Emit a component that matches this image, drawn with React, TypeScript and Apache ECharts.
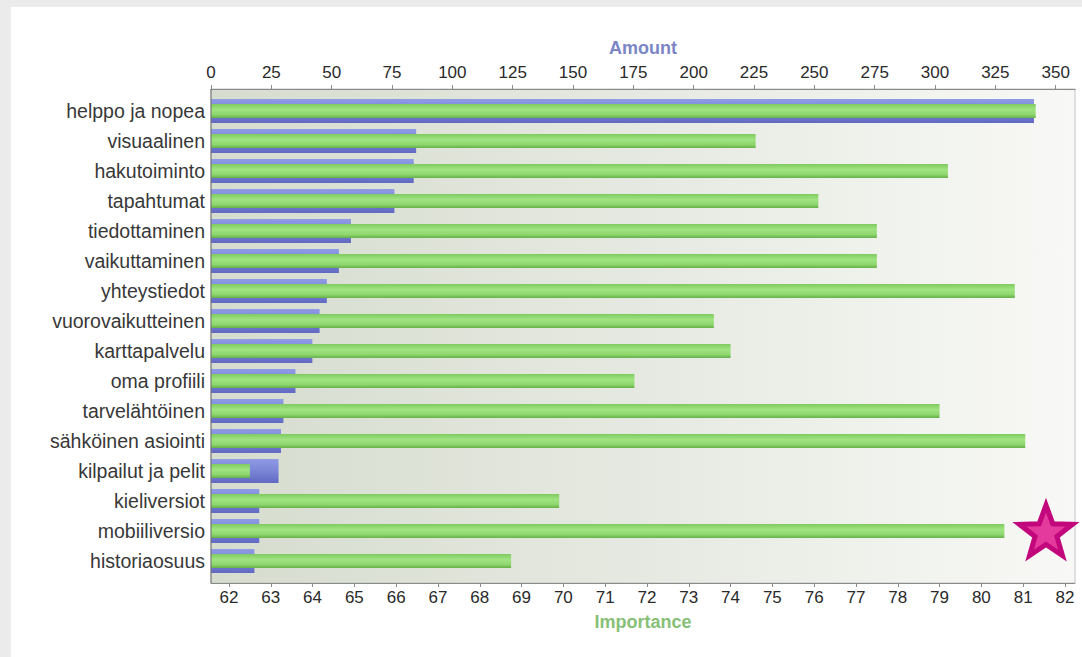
import React, { useEffect, useRef } from "react";
import * as echarts from "echarts";

const categories = [
  "helppo ja nopea",
  "visuaalinen",
  "hakutoiminto",
  "tapahtumat",
  "tiedottaminen",
  "vaikuttaminen",
  "yhteystiedot",
  "vuorovaikutteinen",
  "karttapalvelu",
  "oma profiili",
  "tarvelähtöinen",
  "sähköinen asiointi",
  "kilpailut ja pelit",
  "kieliversiot",
  "mobiiliversio",
  "historiaosuus",
];
const amount = [341, 85, 84, 76, 58, 53, 48, 45, 42, 35, 30, 29, 28, 20, 20, 18];
const importance = [81.3, 74.6, 79.2, 76.1, 77.5, 77.5, 80.8, 73.6, 74.0, 71.7, 79.0, 81.05, 62.5, 69.9, 80.55, 68.75];

const amountRange = [0, 358];
const amountStep = 25;
const importanceRange = [61.57, 82.24];
const importanceStep = 1;

const FONT = "Liberation Sans, Arial, sans-serif";

function starPoints(cx: number, cy: number, R: number, r: number) {
  const pts: number[][] = [];
  for (let i = 0; i < 10; i++) {
    const a = ((-90 + i * 36) * Math.PI) / 180;
    const rad = i % 2 === 0 ? R : r;
    pts.push([cx + rad * Math.cos(a), cy + rad * Math.sin(a)]);
  }
  return pts;
}

export default function App() {
  const ref = useRef<HTMLDivElement>(null);
  useEffect(() => {
    if (!ref.current) return;
    const chart = echarts.init(ref.current, null, { renderer: "svg" });
    const axisCommon = {
      type: "value",
      offset: 7,
      nameLocation: "middle",
      axisLine: { show: true, lineStyle: { color: "#8a8a8a", width: 1 } },
      axisTick: { show: true, length: 4, lineStyle: { color: "#8a8a8a" } },
      splitLine: { show: false },
    };
    const option: any = {
      animation: false,
      backgroundColor: "#ebebeb",
      grid: { left: 211, right: 7, top: 96, bottom: 81, containLabel: false },
      graphic: [
        {
          type: "rect",
          z: -100,
          silent: true,
          shape: { x: 11, y: 7, width: 1071, height: 650 },
          style: { fill: "#ffffff" },
        },
        {
          type: "rect",
          z: -90,
          silent: true,
          shape: { x: 211, y: 89, width: 864, height: 494 },
          style: {
            fill: new echarts.graphic.LinearGradient(0, 0, 1, 0, [
              { offset: 0, color: "#d6dcce" },
              { offset: 0.5, color: "#e6e9e1" },
              { offset: 1, color: "#f8f9f6" },
            ]),
            stroke: "#c4c4c4",
            lineWidth: 1,
          },
        },
        {
          type: "line",
          z: 50,
          silent: true,
          shape: { x1: 211, y1: 89, x2: 211, y2: 583 },
          style: { stroke: "#6e6e6e", lineWidth: 1 },
        },
        {
          type: "polygon",
          z: 60,
          silent: true,
          shape: { points: starPoints(1046, 533, 28, 11.5) },
          style: { fill: "#e43a9d", stroke: "#c2067b", lineWidth: 5, lineJoin: "miter" },
        },
      ],
      xAxis: [
        {
          ...axisCommon,
          position: "top",
          min: amountRange[0],
          max: amountRange[1],
          interval: amountStep,
          name: "Amount",
          nameGap: 32,
          nameTextStyle: { color: "#7b86c6", fontWeight: "bold", fontSize: 18, fontFamily: FONT },
          axisLabel: { margin: 8, fontSize: 17, color: "#2a2a2a", fontFamily: FONT, showMaxLabel: false },
        },
        {
          ...axisCommon,
          position: "bottom",
          min: importanceRange[0],
          max: importanceRange[1],
          minInterval: importanceStep,
          maxInterval: importanceStep,
          splitNumber: 20,
          name: "Importance",
          nameGap: 30,
          nameTextStyle: { color: "#86c077", fontWeight: "bold", fontSize: 18, fontFamily: FONT },
          axisLabel: {
            margin: 6,
            fontSize: 17,
            color: "#2a2a2a",
            fontFamily: FONT,
            showMinLabel: false,
            showMaxLabel: false,
          },
        },
      ],
      yAxis: [
        {
          type: "category",
          data: categories,
          inverse: true,
          axisLine: { show: false },
          axisTick: { show: false },
          splitLine: { show: false },
          axisLabel: { fontSize: 19.5, color: "#383838", margin: 6, fontFamily: FONT },
        },
        {
          type: "category",
          data: categories,
          inverse: true,
          show: false,
        },
      ],
      series: [
        {
          type: "bar",
          name: "Amount",
          xAxisIndex: 0,
          yAxisIndex: 0,
          data: amount,
          barWidth: 24,
          z: 2,
          itemStyle: {
            color: new echarts.graphic.LinearGradient(0, 0, 0, 1, [
              { offset: 0, color: "#8f9be4" },
              { offset: 0.5, color: "#7a85d6" },
              { offset: 1, color: "#6169c2" },
            ]),
          },
        },
        {
          type: "bar",
          name: "Importance",
          xAxisIndex: 1,
          yAxisIndex: 1,
          data: importance,
          barWidth: 14,
          z: 3,
          itemStyle: {
            color: new echarts.graphic.LinearGradient(0, 0, 0, 1, [
              { offset: 0, color: "#7fcb5f" },
              { offset: 0.4, color: "#a0e382" },
              { offset: 0.75, color: "#8ed66e" },
              { offset: 1, color: "#66b049" },
            ]),
          },
        },
      ],
    };
    chart.setOption(option);
    return () => chart.dispose();
  }, []);
  return (
    <div
      ref={ref}
      style={{ position: "fixed", left: 0, top: 0, width: 1082, height: 657 }}
    />
  );
}
